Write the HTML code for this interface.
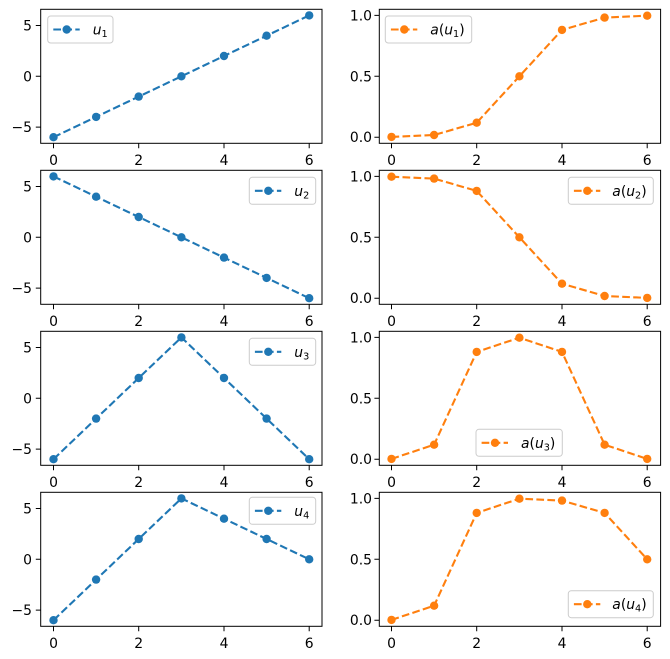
<!DOCTYPE html>
<html><head><meta charset="utf-8"><style>
body{margin:0;background:#fff}
svg{display:block;font-family:"DejaVu Sans","Liberation Sans",sans-serif;font-size:13.9px}
.ax{fill:none;stroke:#000;stroke-width:1}
.tk{stroke:#000;stroke-width:1}
.b{fill:none;stroke:#1f77b4;stroke-width:2.1;stroke-dasharray:7.7 3.3}
.o{fill:none;stroke:#ff7f0e;stroke-width:2.1;stroke-dasharray:7.7 3.3}
.bm circle{fill:#1f77b4}
.om circle{fill:#ff7f0e}
.lg{fill:#fff;fill-opacity:.8;stroke:#ccc;stroke-width:1}
.xl{text-anchor:middle}
.yl{text-anchor:end}
.it{font-style:italic}
</style></head><body>
<svg width="670" height="659" viewBox="0 0 670 659">
<defs>
<g id="xL">
<rect class="ax" x="40.7" y="0" width="281.3" height="134"/>
<path class="tk" d="M53.5 134v4.9M138.7 134v4.9M224 134v4.9M309.2 134v4.9M40.7 16.2h-4.9M40.7 67h-4.9M40.7 117.8h-4.9"/>
<text class="xl" x="53.5" y="155.7">0</text><text class="xl" x="138.7" y="155.7">2</text><text class="xl" x="224" y="155.7">4</text><text class="xl" x="309.2" y="155.7">6</text>
<text class="yl" x="32" y="21.2">5</text><text class="yl" x="32" y="72">0</text><text class="yl" x="32" y="122.8">−5</text>
</g>
<g id="xR">
<rect class="ax" x="379.3" y="0" width="281.3" height="134"/>
<path class="tk" d="M391.5 134v4.9M476.7 134v4.9M562 134v4.9M647.2 134v4.9M379.3 6.1h-4.9M379.3 67h-4.9M379.3 127.9h-4.9"/>
<text class="xl" x="391.5" y="155.7">0</text><text class="xl" x="476.7" y="155.7">2</text><text class="xl" x="562" y="155.7">4</text><text class="xl" x="647.2" y="155.7">6</text>
<text class="yl" x="372" y="11.1">1.0</text><text class="yl" x="372" y="72">0.5</text><text class="yl" x="372" y="132.9">0.0</text>
</g>
</defs>

<!-- Row 1 -->
<g transform="translate(0,9.3)">
<use href="#xL"/><use href="#xR"/>
<polyline class="b" points="53.5,127.9 96.1,107.6 138.7,87.3 181.4,67 224,46.7 266.6,26.4 309.2,6.1"/>
<g class="bm"><circle cx="53.5" cy="127.9" r="4.2"/><circle cx="96.1" cy="107.6" r="4.2"/><circle cx="138.7" cy="87.3" r="4.2"/><circle cx="181.4" cy="67" r="4.2"/><circle cx="224" cy="46.7" r="4.2"/><circle cx="266.6" cy="26.4" r="4.2"/><circle cx="309.2" cy="6.1" r="4.2"/></g>
<polyline class="o" points="391.5,127.6 434.1,125.7 476.7,113.4 519.4,67 562,20.6 604.6,8.3 647.2,6.4"/>
<g class="om"><circle cx="391.5" cy="127.6" r="4.2"/><circle cx="434.1" cy="125.7" r="4.2"/><circle cx="476.7" cy="113.4" r="4.2"/><circle cx="519.4" cy="67" r="4.2"/><circle cx="562" cy="20.6" r="4.2"/><circle cx="604.6" cy="8.3" r="4.2"/><circle cx="647.2" cy="6.4" r="4.2"/></g>
<g transform="translate(47.7,6.7)"><rect class="lg" x="0" y="0" width="65.3" height="27" rx="3"/><path class="b" d="M5.6 13.5H32"/><circle cx="19" cy="13.5" r="4.2" fill="#1f77b4"/><text x="45" y="18.5"><tspan class="it">u</tspan><tspan font-size="9.7" dy="2.5">1</tspan></text></g>
<g transform="translate(385.3,6.7)"><rect class="lg" x="0" y="0" width="86.4" height="27" rx="3"/><path class="o" d="M5.6 13.5H32"/><circle cx="19" cy="13.5" r="4.2" fill="#ff7f0e"/><text x="45" y="18.5"><tspan class="it">a</tspan>(<tspan class="it">u</tspan><tspan font-size="9.7" dy="2.5">1</tspan><tspan dy="-2.5">)</tspan></text></g>
</g>

<!-- Row 2 -->
<g transform="translate(0,170.3)">
<use href="#xL"/><use href="#xR"/>
<polyline class="b" points="53.5,6.1 96.1,26.4 138.7,46.7 181.4,67 224,87.3 266.6,107.6 309.2,127.9"/>
<g class="bm"><circle cx="53.5" cy="6.1" r="4.2"/><circle cx="96.1" cy="26.4" r="4.2"/><circle cx="138.7" cy="46.7" r="4.2"/><circle cx="181.4" cy="67" r="4.2"/><circle cx="224" cy="87.3" r="4.2"/><circle cx="266.6" cy="107.6" r="4.2"/><circle cx="309.2" cy="127.9" r="4.2"/></g>
<polyline class="o" points="391.5,6.4 434.1,8.3 476.7,20.6 519.4,67 562,113.4 604.6,125.7 647.2,127.6"/>
<g class="om"><circle cx="391.5" cy="6.4" r="4.2"/><circle cx="434.1" cy="8.3" r="4.2"/><circle cx="476.7" cy="20.6" r="4.2"/><circle cx="519.4" cy="67" r="4.2"/><circle cx="562" cy="113.4" r="4.2"/><circle cx="604.6" cy="125.7" r="4.2"/><circle cx="647.2" cy="127.6" r="4.2"/></g>
<g transform="translate(249.3,7)"><rect class="lg" x="0" y="0" width="66.4" height="27" rx="3"/><path class="b" d="M5.6 13.5H32"/><circle cx="19" cy="13.5" r="4.2" fill="#1f77b4"/><text x="45" y="18.5"><tspan class="it">u</tspan><tspan font-size="9.7" dy="2.5">2</tspan></text></g>
<g transform="translate(568.3,7)"><rect class="lg" x="0" y="0" width="85" height="27" rx="3"/><path class="o" d="M5.6 13.5H32"/><circle cx="19" cy="13.5" r="4.2" fill="#ff7f0e"/><text x="44" y="18.5"><tspan class="it">a</tspan>(<tspan class="it">u</tspan><tspan font-size="9.7" dy="2.5">2</tspan><tspan dy="-2.5">)</tspan></text></g>
</g>

<!-- Row 3 -->
<g transform="translate(0,331.3)">
<use href="#xL"/><use href="#xR"/>
<polyline class="b" points="53.5,127.9 96.1,87.3 138.7,46.7 181.4,6.1 224,46.7 266.6,87.3 309.2,127.9"/>
<g class="bm"><circle cx="53.5" cy="127.9" r="4.2"/><circle cx="96.1" cy="87.3" r="4.2"/><circle cx="138.7" cy="46.7" r="4.2"/><circle cx="181.4" cy="6.1" r="4.2"/><circle cx="224" cy="46.7" r="4.2"/><circle cx="266.6" cy="87.3" r="4.2"/><circle cx="309.2" cy="127.9" r="4.2"/></g>
<polyline class="o" points="391.5,127.6 434.1,113.4 476.7,20.6 519.4,6.4 562,20.6 604.6,113.4 647.2,127.6"/>
<g class="om"><circle cx="391.5" cy="127.6" r="4.2"/><circle cx="434.1" cy="113.4" r="4.2"/><circle cx="476.7" cy="20.6" r="4.2"/><circle cx="519.4" cy="6.4" r="4.2"/><circle cx="562" cy="20.6" r="4.2"/><circle cx="604.6" cy="113.4" r="4.2"/><circle cx="647.2" cy="127.6" r="4.2"/></g>
<g transform="translate(249.3,7)"><rect class="lg" x="0" y="0" width="66.4" height="27" rx="3"/><path class="b" d="M5.6 13.5H32"/><circle cx="19" cy="13.5" r="4.2" fill="#1f77b4"/><text x="45" y="18.5"><tspan class="it">u</tspan><tspan font-size="9.7" dy="2.5">3</tspan></text></g>
<g transform="translate(476,98)"><rect class="lg" x="0" y="0" width="86.3" height="27" rx="3"/><path class="o" d="M5.6 13.5H32"/><circle cx="19" cy="13.5" r="4.2" fill="#ff7f0e"/><text x="45" y="18.5"><tspan class="it">a</tspan>(<tspan class="it">u</tspan><tspan font-size="9.7" dy="2.5">3</tspan><tspan dy="-2.5">)</tspan></text></g>
</g>

<!-- Row 4 -->
<g transform="translate(0,492.3)">
<use href="#xL"/><use href="#xR"/>
<polyline class="b" points="53.5,127.9 96.1,87.3 138.7,46.7 181.4,6.1 224,26.4 266.6,46.7 309.2,67"/>
<g class="bm"><circle cx="53.5" cy="127.9" r="4.2"/><circle cx="96.1" cy="87.3" r="4.2"/><circle cx="138.7" cy="46.7" r="4.2"/><circle cx="181.4" cy="6.1" r="4.2"/><circle cx="224" cy="26.4" r="4.2"/><circle cx="266.6" cy="46.7" r="4.2"/><circle cx="309.2" cy="67" r="4.2"/></g>
<polyline class="o" points="391.5,127.6 434.1,113.4 476.7,20.6 519.4,6.4 562,8.3 604.6,20.6 647.2,67"/>
<g class="om"><circle cx="391.5" cy="127.6" r="4.2"/><circle cx="434.1" cy="113.4" r="4.2"/><circle cx="476.7" cy="20.6" r="4.2"/><circle cx="519.4" cy="6.4" r="4.2"/><circle cx="562" cy="8.3" r="4.2"/><circle cx="604.6" cy="20.6" r="4.2"/><circle cx="647.2" cy="67" r="4.2"/></g>
<g transform="translate(249.3,5)"><rect class="lg" x="0" y="0" width="66.4" height="27" rx="3"/><path class="b" d="M5.6 13.5H32"/><circle cx="19" cy="13.5" r="4.2" fill="#1f77b4"/><text x="45" y="18.5"><tspan class="it">u</tspan><tspan font-size="9.7" dy="2.5">4</tspan></text></g>
<g transform="translate(568.3,98.4)"><rect class="lg" x="0" y="0" width="85" height="27" rx="3"/><path class="o" d="M5.6 13.5H32"/><circle cx="19" cy="13.5" r="4.2" fill="#ff7f0e"/><text x="44" y="18.5"><tspan class="it">a</tspan>(<tspan class="it">u</tspan><tspan font-size="9.7" dy="2.5">4</tspan><tspan dy="-2.5">)</tspan></text></g>
</g>
</svg>
</body></html>
